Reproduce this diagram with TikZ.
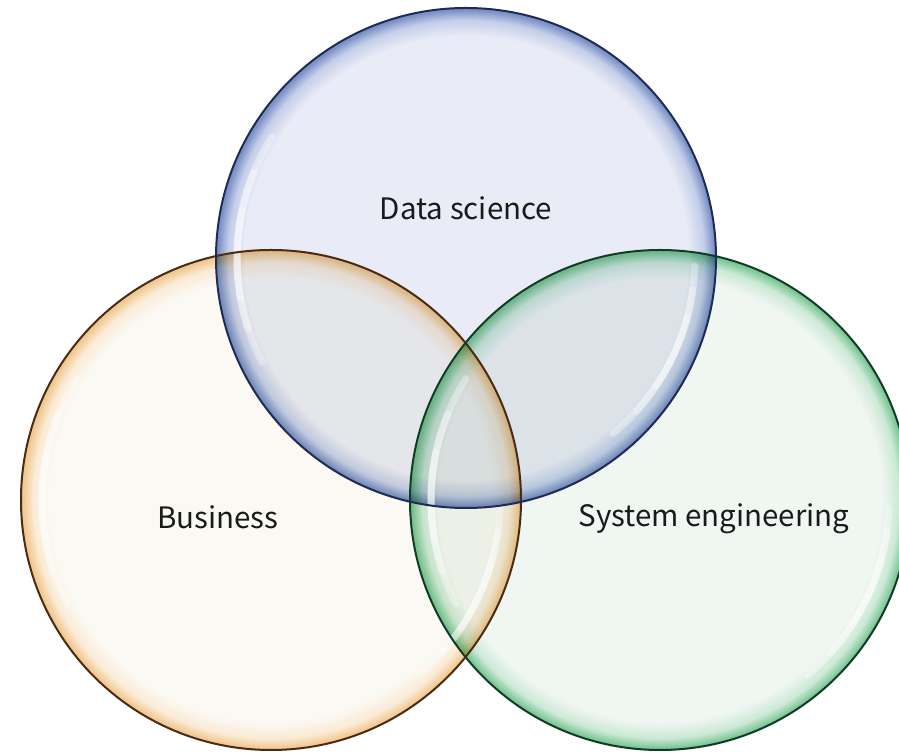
\documentclass[tikz,border=0pt]{standalone}
\usepackage{fontspec}
\setmainfont{Noto Sans CJK JP}
\definecolor{bluein}{HTML}{E9ECF6}
\definecolor{bluemid}{HTML}{C4CEE9}
\definecolor{blueedge}{HTML}{7C92C6}
\definecolor{blueline}{HTML}{1E2B55}
\definecolor{orgin}{HTML}{FBF9F3}
\definecolor{orgmid}{HTML}{FAEBD6}
\definecolor{orgedge}{HTML}{F2C891}
\definecolor{orgline}{HTML}{4A2A12}
\definecolor{grnin}{HTML}{F0F6F2}
\definecolor{grnmid}{HTML}{CCE9D6}
\definecolor{grnedge}{HTML}{7CC795}
\definecolor{grnline}{HTML}{103C25}
\definecolor{txt}{HTML}{1A1A1A}
\pgfdeclareradialshading{glassblue}{\pgfpoint{0pt}{0pt}}{color(0pt)=(bluein); color(222pt)=(bluein); color(238pt)=(bluemid); color(248pt)=(blueedge); color(252pt)=(blueedge)}
\pgfdeclareradialshading{glassorg}{\pgfpoint{0pt}{0pt}}{color(0pt)=(orgin); color(222pt)=(orgin); color(238pt)=(orgmid); color(248pt)=(orgedge); color(252pt)=(orgedge)}
\pgfdeclareradialshading{glassgrn}{\pgfpoint{0pt}{0pt}}{color(0pt)=(grnin); color(222pt)=(grnin); color(238pt)=(grnmid); color(248pt)=(grnedge); color(252pt)=(grnedge)}
\tikzset{
  disc/.style={circle, minimum size=500pt, inner sep=0pt, outer sep=0pt},
  rim/.style={draw=#1, line width=2pt},
  shine/.style={draw=white, line width=7pt, line cap=round, draw opacity=0.33},
  label/.style={font=\fontsize{29.5}{36}\selectfont, text=txt}
}
\begin{document}
\begin{tikzpicture}[x=1pt,y=1pt]
\useasboundingbox (0,0) rectangle (899,752);
\clip (0,0) rectangle (899,752);
\fill[white] (0,0) rectangle (899,752);
\coordinate (cb) at (466,494);
\coordinate (co) at (271,252);
\coordinate (cg) at (660,252);
\begin{scope}[blend group=multiply]
  \foreach \c/\s in {co/glassorg,cg/glassgrn,cb/glassblue}{
    \begin{scope}
      \clip (\c) circle[radius=250];
      \node[inner sep=0pt, outer sep=0pt] at (\c) {\pgfuseshading{\s}};
    \end{scope}
  }
\end{scope}
% highlights
\foreach \c in {cb,co,cg}{
  \foreach \a/\b in {148/207,158/198,168/190}{
    \draw[shine] ([shift={(\a:229)}]\c) arc[start angle=\a, end angle=\b, radius=229];
  }
  \foreach \a/\b in {-50/-2,-42/-8,-34/-15}{
    \draw[shine] ([shift={(\a:229)}]\c) arc[start angle=\a, end angle=\b, radius=229];
  }
}
\node[disc, rim=orgline] (org) at (co) {};
\node[disc, rim=grnline] (grn) at (cg) {};
\node[disc, rim=blueline] (blu) at (cb) {};
\node[label] (tds) at (466,544) {Data science};
\node[label] (tbz) at (218,235) {Business};
\node[label] (tse) at (714,233) {System engineering};
\end{tikzpicture}
\end{document}
